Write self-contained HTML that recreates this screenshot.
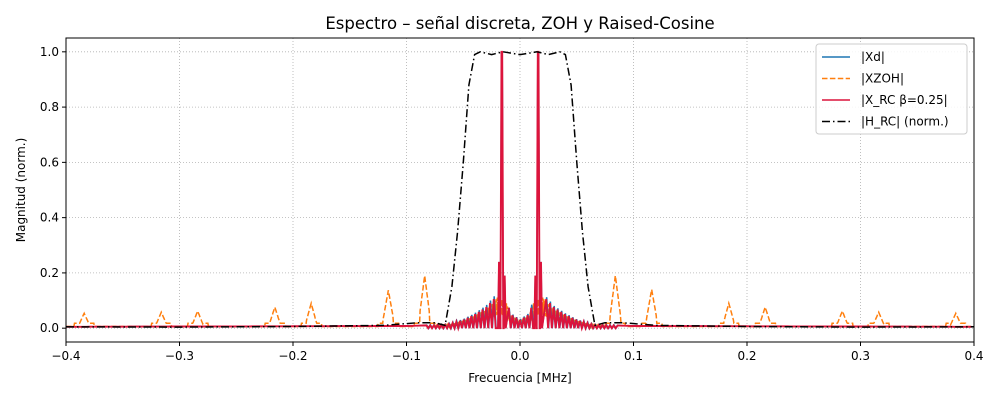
<!DOCTYPE html>
<html><head><meta charset="utf-8"><style>
body{margin:0;background:#fff;font-family:"Liberation Sans",sans-serif}
svg text{font-family:"DejaVu Sans","Liberation Sans",sans-serif}
</style></head><body>
<svg id="c" width="1000" height="400" xmlns="http://www.w3.org/2000/svg"></svg>
<script>
const xTicks=[-0.4,-0.3,-0.2,-0.1,0,0.1,0.2,0.3,0.4];
const xTickLabels=["−0.4","−0.3","−0.2","−0.1","0.0","0.1","0.2","0.3","0.4"];
const yTicks=[0,0.2,0.4,0.6,0.8,1.0];
const yTickLabels=["0.0","0.2","0.4","0.6","0.8","1.0"];
const hrcFreq=[-0.4,-0.3,-0.2,-0.12,-0.09,-0.075,-0.066,-0.06,-0.055,-0.05,-0.045,-0.04,-0.035,-0.025,-0.015,0,0.015,0.025,0.035,0.04,0.045,0.05,0.055,0.06,0.066,0.075,0.09,0.12,0.2,0.3,0.4];
const hrcVal=[0.005,0.004,0.006,0.01,0.02,0.02,0.01,0.15,0.35,0.6,0.88,0.99,1.0,0.99,1.0,0.99,1.0,0.99,1.0,0.99,0.88,0.6,0.35,0.15,0.01,0.02,0.02,0.01,0.006,0.004,0.005];
const zohPeakFreq=[-0.384,-0.316,-0.284,-0.216,-0.184,-0.116,-0.084,0.084,0.116,0.184,0.216,0.284,0.316,0.384];
const zohPeakVal=[0.054,0.058,0.062,0.076,0.09,0.137,0.19,0.19,0.14,0.09,0.076,0.062,0.058,0.054];
const envFreq=[-0.4,-0.1,-0.065,-0.05,-0.04,-0.03,-0.022,-0.019,-0.012,-0.008,0,0.008,0.012,0.019,0.022,0.03,0.04,0.05,0.065,0.1,0.4];
const envVal=[0.005,0.008,0.012,0.03,0.05,0.075,0.11,0.13,0.1,0.05,0.03,0.05,0.1,0.13,0.11,0.075,0.05,0.03,0.012,0.008,0.005];
const peakFreq=[-0.0185,-0.016,-0.0135,0.0135,0.016,0.0185];
const peakVal=[0.24,1.0,0.19,0.19,1.0,0.24];
const X0=66,X1=974,Y0=38,Y1=342;
const sx=f=>X0+(f+0.4)/0.8*(X1-X0);
const sy=v=>Y1-(v+0.05)/1.1*(Y1-Y0);
const svg=document.getElementById('c');const NS='http://www.w3.org/2000/svg';
function el(t,a,p){const e=document.createElementNS(NS,t);for(const k in a)e.setAttribute(k,a[k]);(p||svg).appendChild(e);return e;}
function interp(fs,vs,f){if(f<=fs[0])return vs[0];for(let i=1;i<fs.length;i++){if(f<=fs[i]){const t=(f-fs[i-1])/(fs[i]-fs[i-1]);return vs[i-1]+t*(vs[i]-vs[i-1]);}}return vs[vs.length-1];}
let t=el('text',{x:520,y:29,'text-anchor':'middle','font-size':16.5});t.textContent='Espectro – señal discreta, ZOH y Raised-Cosine';


const grid=el('g',{});


xTicks.forEach((v,i)=>{const x=sx(v);el('line',{x1:x,x2:x,y1:Y0,y2:Y1,stroke:'#b0b0b0','stroke-dasharray':'1,2','stroke-width':0.8},grid);
 el('line',{x1:x,x2:x,y1:Y1,y2:Y1+4,stroke:'#000'});const l=el('text',{x:x,y:Y1+18,'text-anchor':'middle','font-size':12});l.textContent=xTickLabels[i];
 
 });
yTicks.forEach((v,i)=>{const y=sy(v);el('line',{x1:X0,x2:X1,y1:y,y2:y,stroke:'#b0b0b0','stroke-dasharray':'1,2','stroke-width':0.8},grid);
 el('line',{x1:X0-4,x2:X0,y1:y,y2:y,stroke:'#000'});const l=el('text',{x:X0-7,y:y+4,'text-anchor':'end','font-size':12});l.textContent=yTickLabels[i];
 
 });
const clip=el('clipPath',{id:'cp'});el('rect',{x:X0,y:Y0,width:X1-X0,height:Y1-Y0},clip);
const plot=el('g',{'clip-path':'url(#cp)'});
// ZOH
let d='';const N=1600;
for(let i=0;i<=N;i++){const f=-0.4+0.8*i/N;let v=0.006;zohPeakFreq.forEach((pf,k)=>{const w=Math.abs(f-pf);if(w<0.0045)v=Math.max(v,zohPeakVal[k]*(1-(w/0.0045)*0.75));else if(w<0.009)v=Math.max(v,0.018);});
 if(Math.abs(f)<0.08)v=Math.max(v,interp(envFreq,envVal,f)*(i%2?0.4:0.9));
 d+=(i?'L':'M')+sx(f).toFixed(1)+','+sy(v).toFixed(1);}
let p=el('path',{d,fill:'none',stroke:'#ff7f0e','stroke-width':1.5,'stroke-dasharray':'5.5,2.4'},plot);


// combs
function comb(scale,off){const pts=[];const step=0.0033;
 for(let f=-0.4;f<=0.4;f+=0.002)if(Math.abs(f)>0.085)pts.push([f,interp(envFreq,envVal,f)]);
 for(let k=-25;k<=25;k++){const f=k*step+off;if(peakFreq.some(pf=>Math.abs(pf-f)<0.0022))continue;pts.push([f,interp(envFreq,envVal,f)*scale]);pts.push([f+step/2,0]);}
 peakFreq.forEach((f,i)=>{const w=peakVal[i]>0.5?0.0013:0.0009;pts.push([f-w,0]);if(peakVal[i]>0.5){pts.push([f-0.0003,peakVal[i]]);pts.push([f+0.0003,peakVal[i]]);}else pts.push([f,peakVal[i]]);pts.push([f+w,0]);});
 pts.sort((a,b)=>a[0]-b[0]);
 return pts.map((q,i)=>(i?'L':'M')+sx(q[0]).toFixed(1)+','+sy(q[1]).toFixed(1)).join('');}
p=el('path',{d:comb(1.08,0.0004),fill:'none',stroke:'#1f77b4','stroke-width':1.5},plot);


p=el('path',{d:comb(1,0),fill:'none',stroke:'#dc143c','stroke-width':1.9},plot);


// H_RC
d='';hrcFreq.forEach((f,i)=>{d+=(i?'L':'M')+sx(f).toFixed(1)+','+sy(hrcVal[i]).toFixed(1);});
p=el('path',{d,fill:'none',stroke:'#000','stroke-width':1.5,'stroke-dasharray':'8,3,1.5,3','stroke-linejoin':'round'},plot);


el('rect',{x:X0,y:Y0,width:X1-X0,height:Y1-Y0,fill:'none',stroke:'#000','stroke-width':1});
t=el('text',{x:520,y:382,'text-anchor':'middle','font-size':12});t.textContent='Frecuencia [MHz]';


t=el('text',{x:25,y:190,'text-anchor':'middle','font-size':12,transform:'rotate(-90 25 190)'});t.textContent='Magnitud (norm.)';


const lg=el('g',{});


el('rect',{x:816,y:44,width:151,height:90,rx:3,fill:'#fff','fill-opacity':0.85,stroke:'#ccc'},lg);
const items=[['|Xd|','#1f77b4',''],['|XZOH|','#ff7f0e','5.5,2.4'],['|X_RC β=0.25|','#dc143c',''],['|H_RC| (norm.)','#000','8,3,1.5,3']];
items.forEach((it,i)=>{const y=57+i*21.5;const g=el('g',{},lg);
 
 
 el('line',{x1:822,x2:850,y1:y,y2:y,stroke:it[1],'stroke-width':1.5,'stroke-dasharray':it[2]||'none'},g);
 const tx=el('text',{x:861,y:y+4,'font-size':12},g);tx.textContent=it[0];});
</script>
</body></html>
